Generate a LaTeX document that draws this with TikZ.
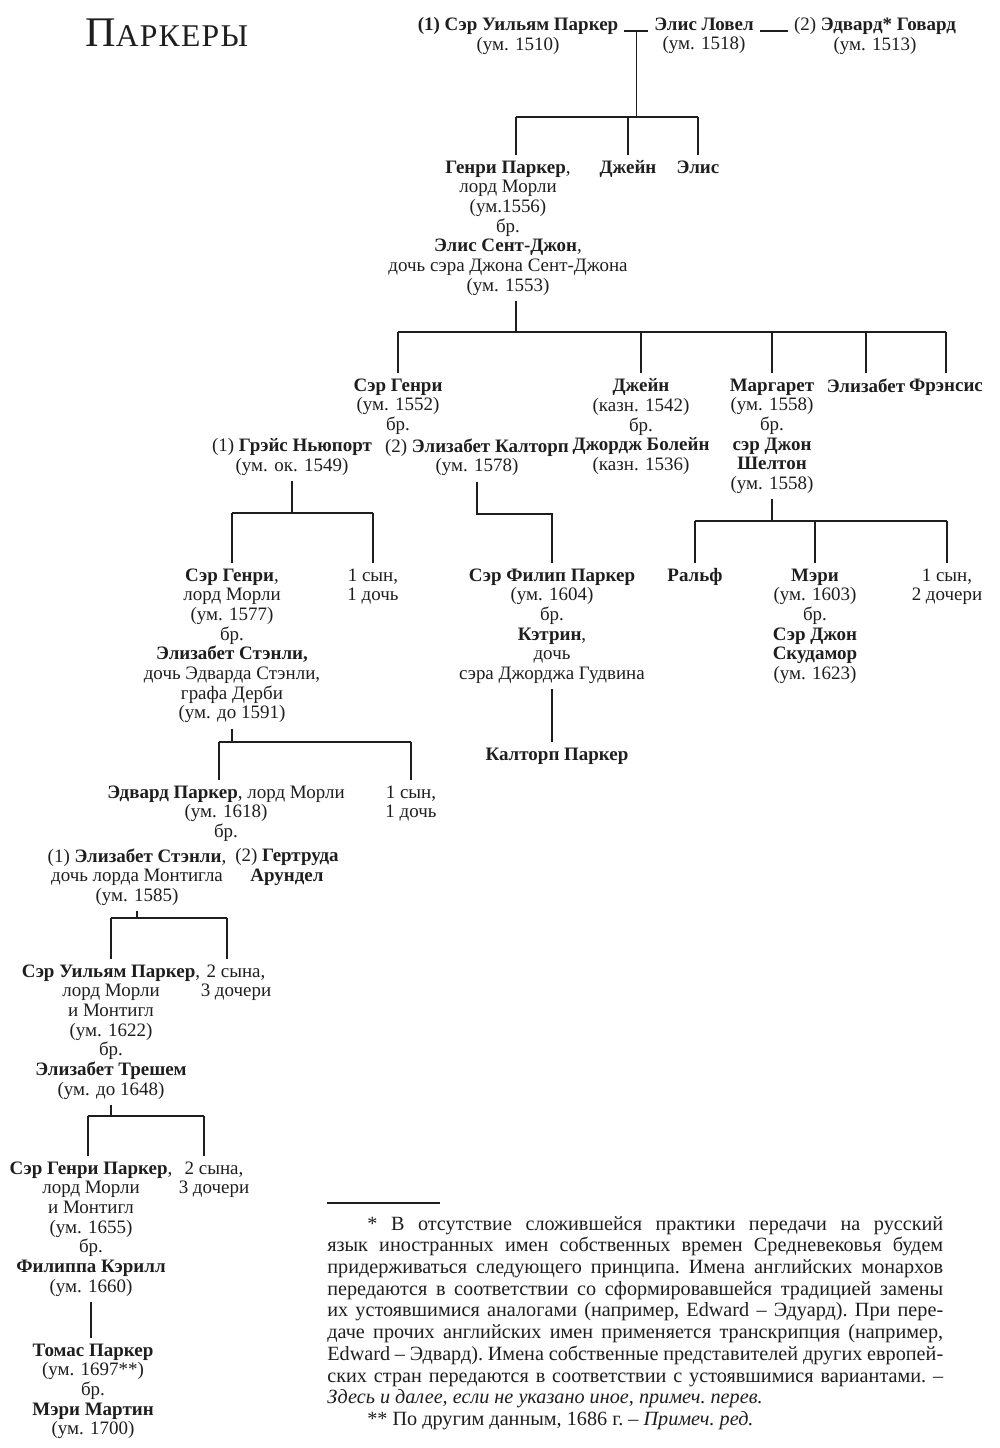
\documentclass[tikz,border=0pt]{standalone}
\usepackage{fontspec}
\setmainfont{Liberation Serif}
\usetikzlibrary{calc}
\definecolor{ink}{HTML}{1E1E1E}
\newcommand{\dfont}{\fontsize{10.8}{11.2}\selectfont}
\newcommand{\ffont}{\fontsize{11.5}{12.35}\selectfont}
\begin{document}
\begin{tikzpicture}[x=0.02cm,y=-0.02cm,
  person/.style={align=center,anchor=north,inner xsep=2pt,inner ysep=3pt,font=\dfont,text=ink},
  tree/.style={draw=ink,line width=0.8pt}]
\useasboundingbox (0,0) rectangle (1000,1448);
\fill[white] (0,0) rectangle (1000,1448);

% title
\node[anchor=base west,inner sep=0,text=ink] (title) at (85,46)
  {\fontsize{24}{24}\selectfont П\fontsize{18}{18}\selectfont\addfontfeatures{LetterSpace=4}АРКЕРЫ};

% row 0
\node[person] (A) at (518,12) {\textbf{(1) Сэр Уильям Паркер}\\(ум. 1510)};
\node[person] (B) at (704,12) {\textbf{Элис Ловел}\\(ум. 1518)};
\node[person] (C) at (875,12) {(2) \textbf{Эдвард* Говард}\\(ум. 1513)};
\draw[tree] ($(A.north east)+(2,19)$) -- ($(B.north west)+(-2,19)$);
\draw[tree] ($(B.north east)+(2,19)$) -- ($(C.north west)+(-2,19)$);
\coordinate (j0) at ($(A.north east)!.5!(B.north west)+(0,19)$);

% row 1
\node[person] (henry1) at (508,155) {\textbf{Генри Паркер},\\лорд Морли\\(ум.1556)\\бр.\\\textbf{Элис Сент-Джон},\\дочь сэра Джона Сент-Джона\\(ум. 1553)};
\node[person] (jane1) at (628,155) {\textbf{Джейн}};
\node[person] (alice1) at (698,155) {\textbf{Элис}};
\coordinate (b1) at (0,117);
\coordinate (h1t) at ([xshift=0.16cm]henry1.north);
\coordinate (h1b) at ([xshift=0.16cm]henry1.south);
\draw[tree] (j0) -- (j0 |- b1);
\draw[tree] (h1t |- b1) -- (alice1.north |- b1);
\draw[tree] (h1t |- b1) -- (h1t);
\draw[tree] (jane1.north |- b1) -- (jane1.north);
\draw[tree] (alice1.north |- b1) -- (alice1.north);

% row 2
\node[person] (henry2) at (398,373) {\textbf{Сэр Генри}\\(ум. 1552)\\бр.};
\node[person] (grace) at (292,433) {(1) \textbf{Грэйс Ньюпорт}\\(ум. ок. 1549)};
\node[person] (calth) at (477,433) {(2) \textbf{Элизабет Калторп}\\(ум. 1578)};
\node[person] (jane2) at (641,373) {\textbf{Джейн}\\(казн. 1542)\\бр.\\\textbf{Джордж Болейн}\\(казн. 1536)};
\node[person] (marg) at (772,373) {\textbf{Маргарет}\\(ум. 1558)\\бр.\\\textbf{сэр Джон}\\\textbf{Шелтон}\\(ум. 1558)};
\node[person] (eliz2) at (866,373) {\textbf{Элизабет}};
\node[person] (fran) at (946,373) {\textbf{Фрэнсис}};
\coordinate (b2) at (0,332);
\draw[tree] (h1b) -- (h1b |- b2);
\draw[tree] (henry2.north |- b2) -- (fran.north |- b2);
\foreach \n in {henry2,jane2,marg,eliz2,fran}
  \draw[tree] (\n.north |- b2) -- (\n.north);

% row 3
\node[person] (henry3) at (232,563) {\textbf{Сэр Генри},\\лорд Морли\\(ум. 1577)\\бр.\\\textbf{Элизабет Стэнли,}\\дочь Эдварда Стэнли,\\графа Дерби\\(ум. до 1591)};
\node[person] (oth3a) at (373,563) {1 сын,\\1 дочь};
\node[person] (philip) at (552,563) {\textbf{Сэр Филип Паркер}\\(ум. 1604)\\бр.\\\textbf{Кэтрин},\\дочь\\сэра Джорджа Гудвина};
\node[person] (ralph) at (695,563) {\textbf{Ральф}};
\node[person] (mary3) at (815,563) {\textbf{Мэри}\\(ум. 1603)\\бр.\\\textbf{Сэр Джон}\\\textbf{Скудамор}\\(ум. 1623)};
\node[person] (oth3b) at (947,563) {1 сын,\\2 дочери};

\coordinate (b3a) at (0,513);
\draw[tree] (grace.south) -- (grace.south |- b3a);
\draw[tree] (henry3.north |- b3a) -- (oth3a.north |- b3a);
\draw[tree] (henry3.north |- b3a) -- (henry3.north);
\draw[tree] (oth3a.north |- b3a) -- (oth3a.north);

\coordinate (b3b) at (0,514);
\draw[tree] (calth.south) -- (calth.south |- b3b) -| (philip.north);

\coordinate (b3c) at (0,521);
\draw[tree] (marg.south) -- (marg.south |- b3c);
\draw[tree] (ralph.north |- b3c) -- (oth3b.north |- b3c);
\foreach \n in {ralph,mary3,oth3b}
  \draw[tree] (\n.north |- b3c) -- (\n.north);

\node[person] (calt) at (557,742) {\textbf{Калторп Паркер}};
\draw[tree] (philip.south) -- (philip.south |- calt.north);

% row 4
\node[person] (edward) at (226,780) {\textbf{Эдвард Паркер}, лорд Морли\\(ум. 1618)\\бр.};
\node[person] (oth4) at (411,780) {1 сын,\\1 дочь};
\node[person] (es) at (137,843) {(1) \textbf{Элизабет Стэнли},\\дочь лорда Монтигла\\(ум. 1585)};
\node[person] (gert) at (287,843) {(2) \textbf{Гертруда}\\\textbf{Арундел}};
\coordinate (b4) at (0,742);
\coordinate (edt) at ([xshift=-0.14cm]edward.north);
\draw[tree] (henry3.south) -- (henry3.south |- b4);
\draw[tree] (edt |- b4) -- (oth4.north |- b4);
\draw[tree] (edt |- b4) -- (edt);
\draw[tree] (oth4.north |- b4) -- (oth4.north);

% row 5
\node[person] (r5) at (111,959) {\textbf{Сэр Уильям Паркер},\\лорд Морли\\и Монтигл\\(ум. 1622)\\бр.\\\textbf{Элизабет Трешем}\\(ум. до 1648)};
\node[person] (oth5) at (236,959) {2 сына,\\3 дочери};
\coordinate (b5) at (0,918);
\coordinate (o5t) at ([xshift=-0.18cm]oth5.north);
\draw[tree] (es.south) -- (es.south |- b5);
\draw[tree] (r5.north |- b5) -- (o5t |- b5);
\draw[tree] (r5.north |- b5) -- (r5.north);
\draw[tree] (o5t |- b5) -- (o5t);

% row 6
\node[person] (r6) at (91,1156) {\textbf{Сэр Генри Паркер},\\лорд Морли\\и Монтигл\\(ум. 1655)\\бр.\\\textbf{Филиппа Кэрилл}\\(ум. 1660)};
\node[person] (oth6) at (214,1156) {2 сына,\\3 дочери};
\coordinate (b6) at (0,1116);
\coordinate (r6t) at ([xshift=-0.06cm]r6.north);
\coordinate (o6t) at ([xshift=-0.2cm]oth6.north);
\draw[tree] (r5.south) -- (r5.south |- b6);
\draw[tree] (r6t |- b6) -- (o6t |- b6);
\draw[tree] (r6t |- b6) -- (r6t);
\draw[tree] (o6t |- b6) -- (o6t);

% row 7
\node[person] (tomas) at (93,1338) {\textbf{Томас Паркер}\\(ум. 1697**)\\бр.\\\textbf{Мэри Мартин}\\(ум. 1700)};
\draw[tree] (r6.south) -- (r6.south |- tomas.north);

% footnote
\draw[draw=ink,line width=0.6pt] (327,1203) coordinate (fr1) -- (440,1203) coordinate (fr2);
\node[anchor=north west,inner sep=0,text width=12.32cm,align=justify,font=\ffont,text=ink] (foot) at (327,1216)
{\frenchspacing\hspace*{0.8cm}* В отсутствие сложившейся практики передачи на русский\linebreak
язык иностранных имен собственных времен Средневековья будем\linebreak
придерживаться следующего принципа. Имена английских монархов\linebreak
передаются в соответствии со сформировавшейся традицией замены\linebreak
их устоявшимися аналогами (например, Edward – Эдуард). При пере-\linebreak
даче прочих английских имен применяется транскрипция (например,\linebreak
Edward – Эдвард). Имена собственные представителей других европей-\linebreak
ских стран передаются в соответствии с устоявшимися вариантами. –\linebreak
\textit{Здесь и далее, если не указано иное, примеч. перев.}\par
\hspace*{0.8cm}** По другим данным, 1686 г. – \textit{Примеч. ред.}};
\end{tikzpicture}
\end{document}
